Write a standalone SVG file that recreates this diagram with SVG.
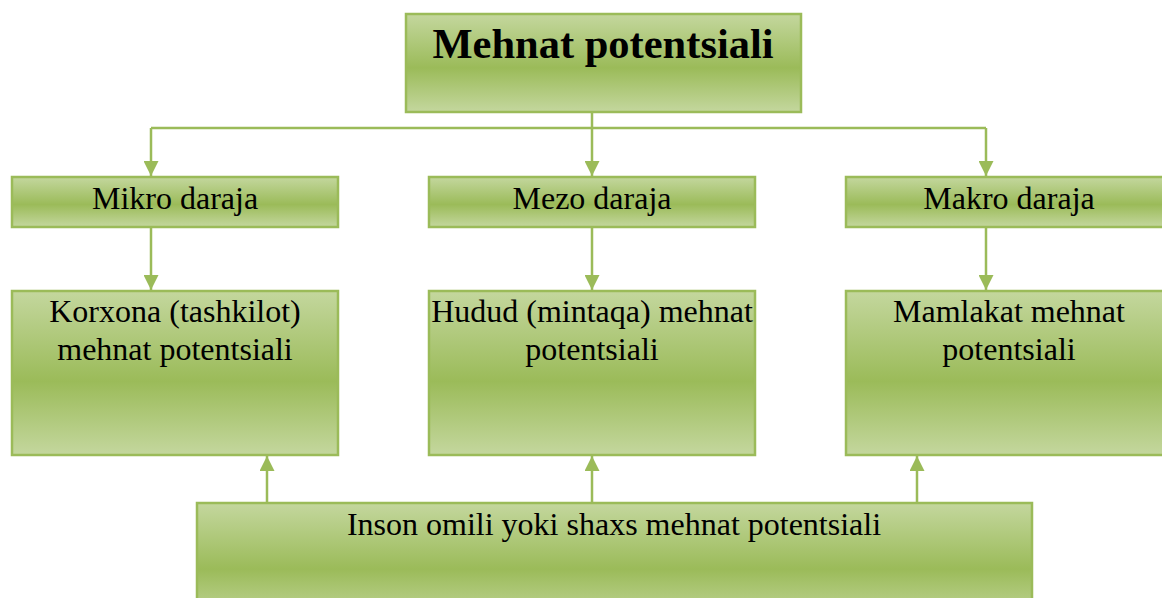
<svg xmlns="http://www.w3.org/2000/svg" width="1162" height="598" viewBox="0 0 1162 598">
<style>
.box{fill:url(#g);stroke:#9bbb59;stroke-width:2.5}
.t{font-family:"Liberation Serif","Times New Roman",serif;font-size:32px;fill:#000;text-anchor:middle}
.title{font-family:"Liberation Serif","Times New Roman",serif;font-size:42.5px;font-weight:bold;fill:#000;text-anchor:middle}
.c{fill:none;stroke:#9bbb59;stroke-width:2.5}
</style>
<defs>
<linearGradient id="g" x1="0" y1="0" x2="0" y2="1">
<stop offset="0" stop-color="#c4d79e"/>
<stop offset="0.55" stop-color="#9bbb59"/>
<stop offset="1" stop-color="#c4d79e"/>
</linearGradient>
<marker id="ah" viewBox="0 0 10 10" refX="10" refY="5" markerWidth="6" markerHeight="6" markerUnits="strokeWidth" orient="auto">
<path d="M0,0 L10,5 L0,10 z" fill="#9bbb59"/>
</marker>
</defs>
<g id="connectors">
<path class="c" d="M592,112 V128"/>
<path class="c" d="M151,128 H986"/>
<path class="c" d="M151,128 V176" marker-end="url(#ah)"/>
<path class="c" d="M592,128 V176" marker-end="url(#ah)"/>
<path class="c" d="M986,128 V176" marker-end="url(#ah)"/>
<path class="c" d="M151,227 V290" marker-end="url(#ah)"/>
<path class="c" d="M592,227 V290" marker-end="url(#ah)"/>
<path class="c" d="M986,227 V290" marker-end="url(#ah)"/>
<path class="c" d="M267,503 V456" marker-end="url(#ah)"/>
<path class="c" d="M592,503 V456" marker-end="url(#ah)"/>
<path class="c" d="M917,503 V456" marker-end="url(#ah)"/>
</g>
<g id="top">
<rect class="box" x="406" y="14" width="395" height="98"/>
<text class="title" x="603" y="58">Mehnat potentsiali</text>
</g>
<g id="mikro">
<rect class="box" x="12" y="177" width="326" height="50"/>
<text class="t" x="175" y="209">Mikro daraja</text>
</g>
<g id="mezo">
<rect class="box" x="429" y="177" width="326" height="50"/>
<text class="t" x="592" y="209">Mezo daraja</text>
</g>
<g id="makro">
<rect class="box" x="846" y="177" width="326" height="50"/>
<text class="t" x="1009" y="209">Makro daraja</text>
</g>
<g id="korxona">
<rect class="box" x="12" y="291" width="326" height="164"/>
<text class="t" x="175" y="322">Korxona (tashkilot)</text>
<text class="t" x="175" y="360">mehnat potentsiali</text>
</g>
<g id="hudud">
<rect class="box" x="429" y="291" width="326" height="164"/>
<text class="t" x="592" y="322">Hudud (mintaqa) mehnat</text>
<text class="t" x="592" y="360">potentsiali</text>
</g>
<g id="mamlakat">
<rect class="box" x="846" y="291" width="326" height="164"/>
<text class="t" x="1009" y="322">Mamlakat mehnat</text>
<text class="t" x="1009" y="360">potentsiali</text>
</g>
<g id="inson">
<rect class="box" x="197" y="503" width="835" height="120"/>
<text class="t" x="614" y="535">Inson omili yoki shaxs mehnat potentsiali</text>
</g>
</svg>
